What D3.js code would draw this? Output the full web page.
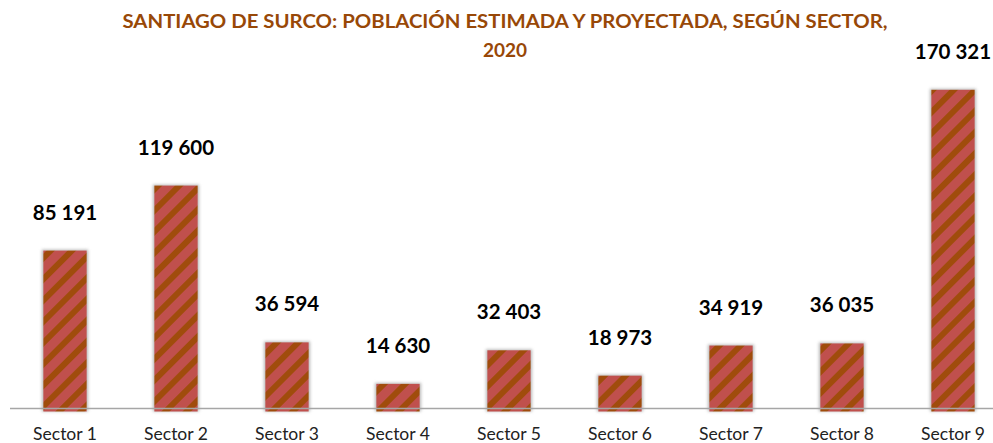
<!DOCTYPE html>
<html>
<head>
<meta charset="utf-8">
<script src="https://cdn.jsdelivr.net/npm/d3@7"></script>
<style>
  body { margin: 0; background: #fff; }
  text { font-family: Lato, "Open Sans", sans-serif; }
</style>
</head>
<body>
<div id="chart"></div>
<script>
const sectors = ['Sector 1', 'Sector 2', 'Sector 3', 'Sector 4', 'Sector 5',
  'Sector 6', 'Sector 7', 'Sector 8', 'Sector 9'];
const population = [85191, 119600, 36594, 14630, 32403, 18973, 34919, 36035, 170321];
const titleLines = ['SANTIAGO DE SURCO: POBLACIÓN ESTIMADA Y PROYECTADA, SEGÚN SECTOR,', '2020'];

const width = 993, height = 443;
const fmt = v => d3.format(',')(v).replace(/,/g, ' ');

const svg = d3.select('#chart')
  .append('svg')
  .attr('width', width)
  .attr('height', height);

const defs = svg.append('defs');
// striped fill like the excel pattern
const pat = defs.append('pattern')
  .attr('id', 'stripes')
  .attr('patternUnits', 'userSpaceOnUse')
  .attr('width', 15)
  .attr('height', 15)
  .attr('patternTransform', 'rotate(45)');
pat.append('rect').attr('width', 15).attr('height', 15).attr('fill', '#c0504d');
pat.append('rect').attr('width', 6).attr('height', 15).attr('fill', '#a04c0c');

const blur = defs.append('filter').attr('id', 'shadow')
  .attr('x', '-30%').attr('y', '-30%').attr('width', '160%').attr('height', '160%');
blur.append('feGaussianBlur').attr('stdDeviation', 1.6);

// Scales
const x = d3.scaleBand()
  .domain(sectors)
  .range([9.5, 1008.5])
  .paddingInner(0.61)
  .paddingOuter(0.305);
const y = d3.scaleLinear()
  .domain([0, 180000])
  .range([411.5, 71.5]);

const data = sectors.map((s, i) => ({ sector: s, value: population[i] }));

// Title
svg.append('g').selectAll('text')
  .data(titleLines)
  .enter()
  .append('text')
  .attr('x', 505)
  .attr('y', (d, i) => 28 + i * 29)
  .attr('text-anchor', 'middle')
  .attr('fill', '#984807')
  .style('font-size', '19px')
  .style('font-weight', 'bold')
  .attr('textLength', (d, i) => i === 0 ? 765 : null)
  .attr('lengthAdjust', 'spacingAndGlyphs')
  .text(d => d);

// Bars
const bars = svg.append('g');
bars.selectAll('rect.shadow')
  .data(data)
  .enter()
  .append('rect')
  .attr('class', 'shadow')
  .attr('x', d => x(d.sector) - 1.5)
  .attr('y', d => y(d.value) - 1)
  .attr('width', x.bandwidth() + 3)
  .attr('height', d => y(0) - y(d.value) + 1)
  .attr('fill', '#bbb')
  .attr('filter', 'url(#shadow)');
bars.selectAll('rect.bar')
  .data(data)
  .enter()
  .append('rect')
  .attr('class', 'bar')
  .attr('x', d => x(d.sector))
  .attr('y', d => y(d.value))
  .attr('width', x.bandwidth())
  .attr('height', d => y(0) - y(d.value))
  .attr('fill', 'url(#stripes)');

// Axis
const xAxis = svg.append('g')
  .attr('transform', 'translate(0,408.5)')
  .call(d3.axisBottom(x).tickSize(0).tickPadding(19));
xAxis.select('.domain').attr('stroke', '#a6a6a6').attr('stroke-width', 1.5).attr('d', 'M10,0H993');
xAxis.selectAll('text')
  .style('font-family', 'Lato, "Open Sans", sans-serif')
  .style('font-size', '17.5px')
  .attr('fill', '#222');

// Value labels
svg.append('g').selectAll('text')
  .data(data)
  .enter()
  .append('text')
  .attr('x', d => x(d.sector) + x.bandwidth() / 2)
  .attr('y', d => y(d.value) - 31)
  .attr('text-anchor', 'middle')
  .style('font-size', '20.5px')
  .style('font-weight', 'bold')
  .attr('fill', '#000')
  .text(d => fmt(d.value));
</script>
</body>
</html>
